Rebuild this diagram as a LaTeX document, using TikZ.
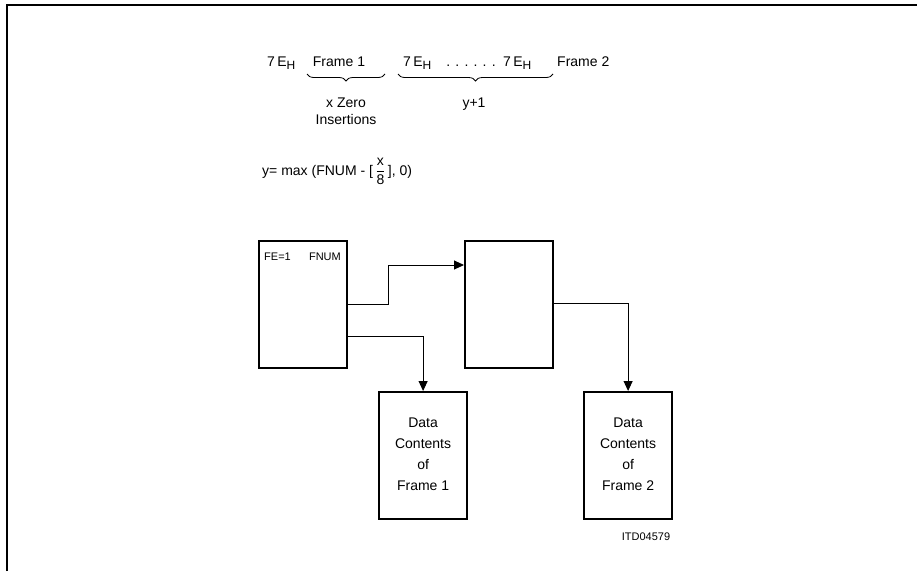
\documentclass[tikz,border=0pt]{standalone}
\usepackage{fontspec}
\setmainfont{Liberation Sans}
\usetikzlibrary{arrows.meta,decorations.pathreplacing}
\begin{document}
\begin{tikzpicture}[x=1pt,y=-1pt,
  box/.style={draw,line width=2.2pt,minimum width=88pt,minimum height=127pt,anchor=north west,inner sep=0pt},
  conn/.style={line width=0.9pt,-{Triangle[length=10pt,width=9pt]}},
  lbl/.style={font=\fontsize{14}{21}\selectfont,inner sep=0pt,anchor=base},
  small/.style={font=\fontsize{11}{13}\selectfont,inner sep=0pt,anchor=base},
  brc/.style={decorate,decoration={brace,mirror,amplitude=7pt},line width=0.8pt}]
\useasboundingbox (0,0) rectangle (917,571);
\draw[line width=1.4pt] (7,571) -- (7,5) -- (917,5);
% top row
\newcommand{\sevE}{7\,E\raisebox{-0.5ex}{\fontsize{12}{12}\selectfont H}}
\node[lbl,anchor=base west] (e1) at (267,66) {\sevE};
\node[lbl] (f1) at (339,66) {Frame 1};
\node[lbl,anchor=base west] (e2) at (403,66) {\sevE};
\node[lbl] (dots) at (471,66) {. . . . . .};
\node[lbl,anchor=base west] (e3) at (503,66) {\sevE};
\node[lbl,anchor=base west] (f2) at (557,66) {Frame 2};
\coordinate (b1l) at (307,74);
\coordinate (b1r) at (385,74);
\coordinate (b2l) at (398,74);
\coordinate (b2r) at (553,74);
\draw[brc] (b1l) -- (b1r);
\draw[brc] (b2l) -- (b2r);
\node[lbl] (xz) at (346,107) {x Zero};
\node[lbl] (ins) at (346,124) {Insertions};
\node[lbl] (y1) at (474,107) {y+1};
% formula
\node[lbl,anchor=base west] (form) at (262,175) {y= max (FNUM - [\,$\displaystyle\frac{\mbox{x}}{\mbox{8}}$\,], 0)};
% boxes
\node[box] (A) at (258,240) {};
\node[box] (B) at (464,240) {};
\node[box] (C) at (378,391) {};
\node[box] (D) at (583,391) {};
\node[align=center,font=\fontsize{14}{21}\selectfont,inner sep=0pt] (ct) at ([yshift=1.5pt]C.center) {Data\\Contents\\of\\Frame 1};
\node[align=center,font=\fontsize{14}{21}\selectfont,inner sep=0pt] (dt) at ([yshift=1.5pt]D.center) {Data\\Contents\\of\\Frame 2};
\node[small,anchor=base west] (fe) at (264,260) {FE=1};
\node[small,anchor=base east] (fn) at (341,260) {FNUM};
\node[small] (itd) at (646,540) {ITD04579};
% connectors
\draw[conn] (A.east |- 0,304) -| (388,265) -- (B.west |- 0,265);
\draw[conn] (A.east |- 0,336) -| (C.north);
\draw[conn] (B.east |- 0,303) -| (D.north);
\end{tikzpicture}
\end{document}
